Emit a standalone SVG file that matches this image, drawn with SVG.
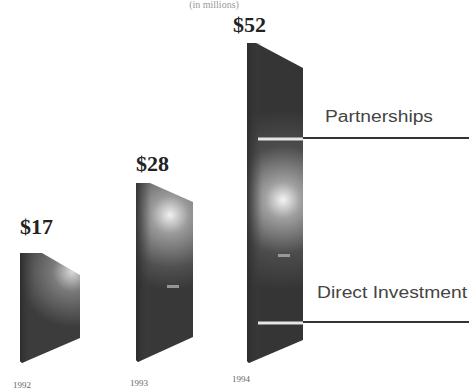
<svg xmlns="http://www.w3.org/2000/svg" width="469" height="390" viewBox="0 0 469 390">
<style>
.val{font-family:"Liberation Serif","Times New Roman",serif;font-weight:bold;font-size:22px;fill:#222}
.yr{font-family:"Liberation Serif","Times New Roman",serif;font-size:9px;fill:#666}
.lbl{font-family:"Liberation Sans",Arial,sans-serif;font-size:16px;fill:#444}
.lead{stroke:#333;stroke-width:2;fill:none}
.hl{stroke:#e6e6e6;stroke-width:3;fill:none}
.side{fill:url(#sideG)}
</style>
<defs>
<radialGradient id="g92" gradientUnits="userSpaceOnUse" cx="72" cy="272" r="55">
<stop offset="0" stop-color="#d8d8d8"/><stop offset="0.35" stop-color="#7a7a7a"/><stop offset="1" stop-color="#3c3c3c"/>
</radialGradient>
<radialGradient id="g93" gradientUnits="userSpaceOnUse" cx="170" cy="215" r="75">
<stop offset="0" stop-color="#f0f0f0"/><stop offset="0.25" stop-color="#9a9a9a"/><stop offset="0.7" stop-color="#505050"/><stop offset="1" stop-color="#383838"/>
</radialGradient>
<radialGradient id="g94" gradientUnits="userSpaceOnUse" cx="283" cy="200" r="90">
<stop offset="0" stop-color="#f4f4f4"/><stop offset="0.2" stop-color="#a0a0a0"/><stop offset="0.6" stop-color="#4c4c4c"/><stop offset="1" stop-color="#353535"/>
</radialGradient>
<linearGradient id="sideG" x1="0" x2="1" y1="0" y2="0">
<stop offset="0" stop-color="#2a2a2a" stop-opacity="0.85"/><stop offset="1" stop-color="#444" stop-opacity="0"/>
</linearGradient>
</defs>
<rect width="469" height="390" fill="#fff"/>
<text x="214" y="8" class="yr" style="font-size:10px;fill:#999" text-anchor="middle">(in millions)</text>
<g id="bar1992">
<polygon points="20,253 42,253 80,275 80,338 22,363 20,361" fill="url(#g92)"/>
<polygon points="20,253 34,253 34,357 22,363 20,361" class="side"/>
<text x="20" y="234" class="val">$17</text>
<text x="13" y="388" class="yr">1992</text>
</g>
<g id="bar1993">
<polygon points="136,183 150,183 193,202 193,337 138,362 136,360" fill="url(#g93)"/>
<polygon points="136,183 151,183 151,355 138,362 136,360" class="side"/>
<rect x="167" y="285" width="12" height="3" fill="#bbb" opacity="0.7"/>
<text x="136" y="171" class="val">$28</text>
<text x="130" y="386" class="yr">1993</text>
</g>
<g id="bar1994">
<polygon points="247,43 256,43 303,68 303,340 249,363 247,361" fill="url(#g94)"/>
<polygon points="247,43 262,43 262,356 249,363 247,361" class="side"/>
<rect x="278" y="254" width="12" height="3" fill="#bbb" opacity="0.7"/>
<text x="233" y="32" class="val">$52</text>
<text x="232" y="382" class="yr">1994</text>
</g>
<g id="connectors">
<line x1="258" y1="139" x2="303" y2="139" class="hl"/>
<line x1="303" y1="138" x2="469" y2="138" class="lead"/>
<line x1="258" y1="323" x2="303" y2="323" class="hl"/>
<line x1="303" y1="322" x2="469" y2="322" class="lead"/>
</g>
<g id="label-partnerships">
<text x="325" y="122" class="lbl" textLength="108" lengthAdjust="spacingAndGlyphs">Partnerships</text>
</g>
<g id="label-direct">
<text x="317" y="298" class="lbl" textLength="150" lengthAdjust="spacingAndGlyphs">Direct Investment</text>
</g>
</svg>
